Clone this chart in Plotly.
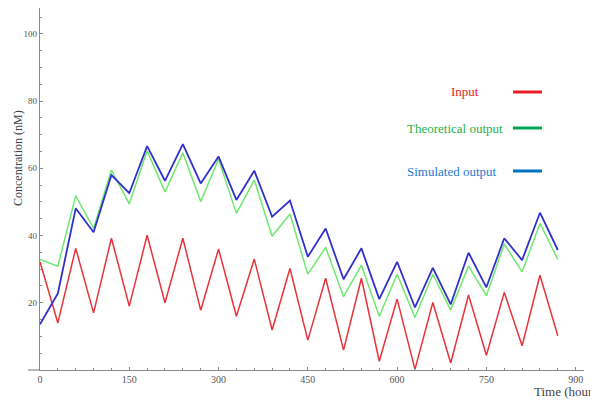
import plotly.graph_objects as go

# ---- data ----
time_h = [0, 30, 60, 90, 120, 150, 180, 210, 240, 270, 300, 330, 360, 390, 420,
          450, 480, 510, 540, 570, 600, 630, 660, 690, 720, 750, 780, 810, 840, 870]
input_nM = [32.2, 14.0, 36.2, 17.0, 39.2, 19.0, 40.1, 20.0, 39.2, 17.8, 36.0, 16.0, 33.0, 11.9, 30.2,
            8.9, 27.3, 5.9, 27.3, 2.6, 21.1, 0.2, 20.1, 2.1, 22.3, 4.4, 23.1, 7.2, 28.2, 10.2]
theoretical_nM = [32.9, 30.9, 51.8, 42.1, 59.5, 49.4, 65.2, 53.0, 64.6, 50.1, 62.7, 46.6, 56.5, 39.8, 46.4,
                  28.5, 36.5, 21.8, 31.2, 16.0, 28.5, 15.6, 28.5, 17.8, 30.9, 22.1, 37.5, 29.2, 43.6, 32.9]
simulated_nM = [13.6, 22.8, 48.1, 41.0, 58.0, 52.6, 66.6, 56.3, 67.2, 55.5, 63.5, 50.6, 59.3, 45.6, 50.4,
                33.7, 42.1, 27.0, 36.2, 21.1, 32.2, 18.6, 30.4, 19.5, 34.9, 24.6, 39.2, 32.7, 46.8, 35.7]

legend_labels = ["Input", "Theoretical output", "Simulated output"]
x_tick_vals = [0, 150, 300, 450, 600, 750, 900]
y_tick_vals = [20, 40, 60, 80, 100]

# ---- layout geometry ----
# The page body has an 8px default margin, so the figure is drawn 8px right/down.
OFF = 8
W, H = 598, 400
PLOT_L, PLOT_R, PLOT_T, PLOT_B = 40, 584, 8, 370   # in window pixels
L = PLOT_L - OFF
T = PLOT_T - OFF
R = W - (PLOT_R - OFF)
B = H - (PLOT_B - OFF)


def px(x):
    return (x - PLOT_L) / (PLOT_R - PLOT_L)


def py(y):
    return (PLOT_B - y) / (PLOT_B - PLOT_T)


SERIF = "Liberation Serif, Times New Roman, serif"
TICK_COLOR = "#555555"
AXIS_COLOR = "#8a8a8a"

fig = go.Figure()
fig.add_trace(go.Scatter(x=time_h, y=theoretical_nM, mode="lines",
                         line=dict(color="#6fe86f", width=1.5), name=legend_labels[1]))
fig.add_trace(go.Scatter(x=time_h, y=input_nM, mode="lines",
                         line=dict(color="#e8333b", width=1.5), name=legend_labels[0]))
fig.add_trace(go.Scatter(x=time_h, y=simulated_nM, mode="lines",
                         line=dict(color="#3030cc", width=1.8), name=legend_labels[2]))

fig.update_layout(
    width=W, height=H,
    margin=dict(l=L, r=R, t=T, b=B, pad=0, autoexpand=False),
    paper_bgcolor="white", plot_bgcolor="white",
    showlegend=False,
    font=dict(family=SERIF, color=TICK_COLOR, size=10),
    xaxis=dict(range=[0, 914], showgrid=False, zeroline=False,
               showline=True, linecolor=AXIS_COLOR, linewidth=1.2,
               tickmode="array", tickvals=x_tick_vals, ticks="inside", ticklen=3,
               tickcolor=AXIS_COLOR, tickfont=dict(size=10, color=TICK_COLOR),
               minor=dict(dtick=30, tick0=0, ticks="inside", ticklen=2, tickcolor=AXIS_COLOR)),
    yaxis=dict(range=[0, 107.7], showgrid=False, zeroline=False,
               showline=True, linecolor=AXIS_COLOR, linewidth=1.2,
               tickmode="array", tickvals=y_tick_vals, ticks="inside", ticklen=3,
               tickcolor=AXIS_COLOR, tickfont=dict(size=9, color=TICK_COLOR),
               minor=dict(dtick=5, tick0=0, ticks="inside", ticklen=2, tickcolor=AXIS_COLOR)),
)

# x-axis line extension to the left of the origin
fig.add_shape(type="line", xref="paper", yref="paper", x0=px(28), x1=0, y0=0, y1=0,
              line=dict(color=AXIS_COLOR, width=1.2))

# axis titles
fig.add_annotation(text="Concentration (nM)", xref="paper", yref="paper",
                   x=px(18), y=py(158), textangle=-90, showarrow=False,
                   xanchor="center", yanchor="middle",
                   font=dict(family=SERIF, size=12, color="#444444"))
fig.add_annotation(text="Time (hours)", xref="paper", yref="paper",
                   x=px(532), y=py(391), showarrow=False,
                   xanchor="left", yanchor="middle",
                   font=dict(family=SERIF, size=13, color="#444444"))

# custom legend
legend_items = [
    (legend_labels[0], "#ee1c24", "#ee1c24", 449, 92),
    (legend_labels[1], "#22b14c", "#00a651", 405, 128),
    (legend_labels[2], "#1f78d1", "#0070c0", 405, 171),
]
for label, tcol, lcol, tx, ty in legend_items:
    fig.add_annotation(text=label, xref="paper", yref="paper", x=px(tx), y=py(ty),
                       showarrow=False, xanchor="left", yanchor="middle",
                       font=dict(family=SERIF, size=13, color=tcol))
    fig.add_shape(type="line", xref="paper", yref="paper",
                  x0=px(513), x1=px(542), y0=py(ty), y1=py(ty),
                  line=dict(color=lcol, width=3))

fig.write_html("out.html")
